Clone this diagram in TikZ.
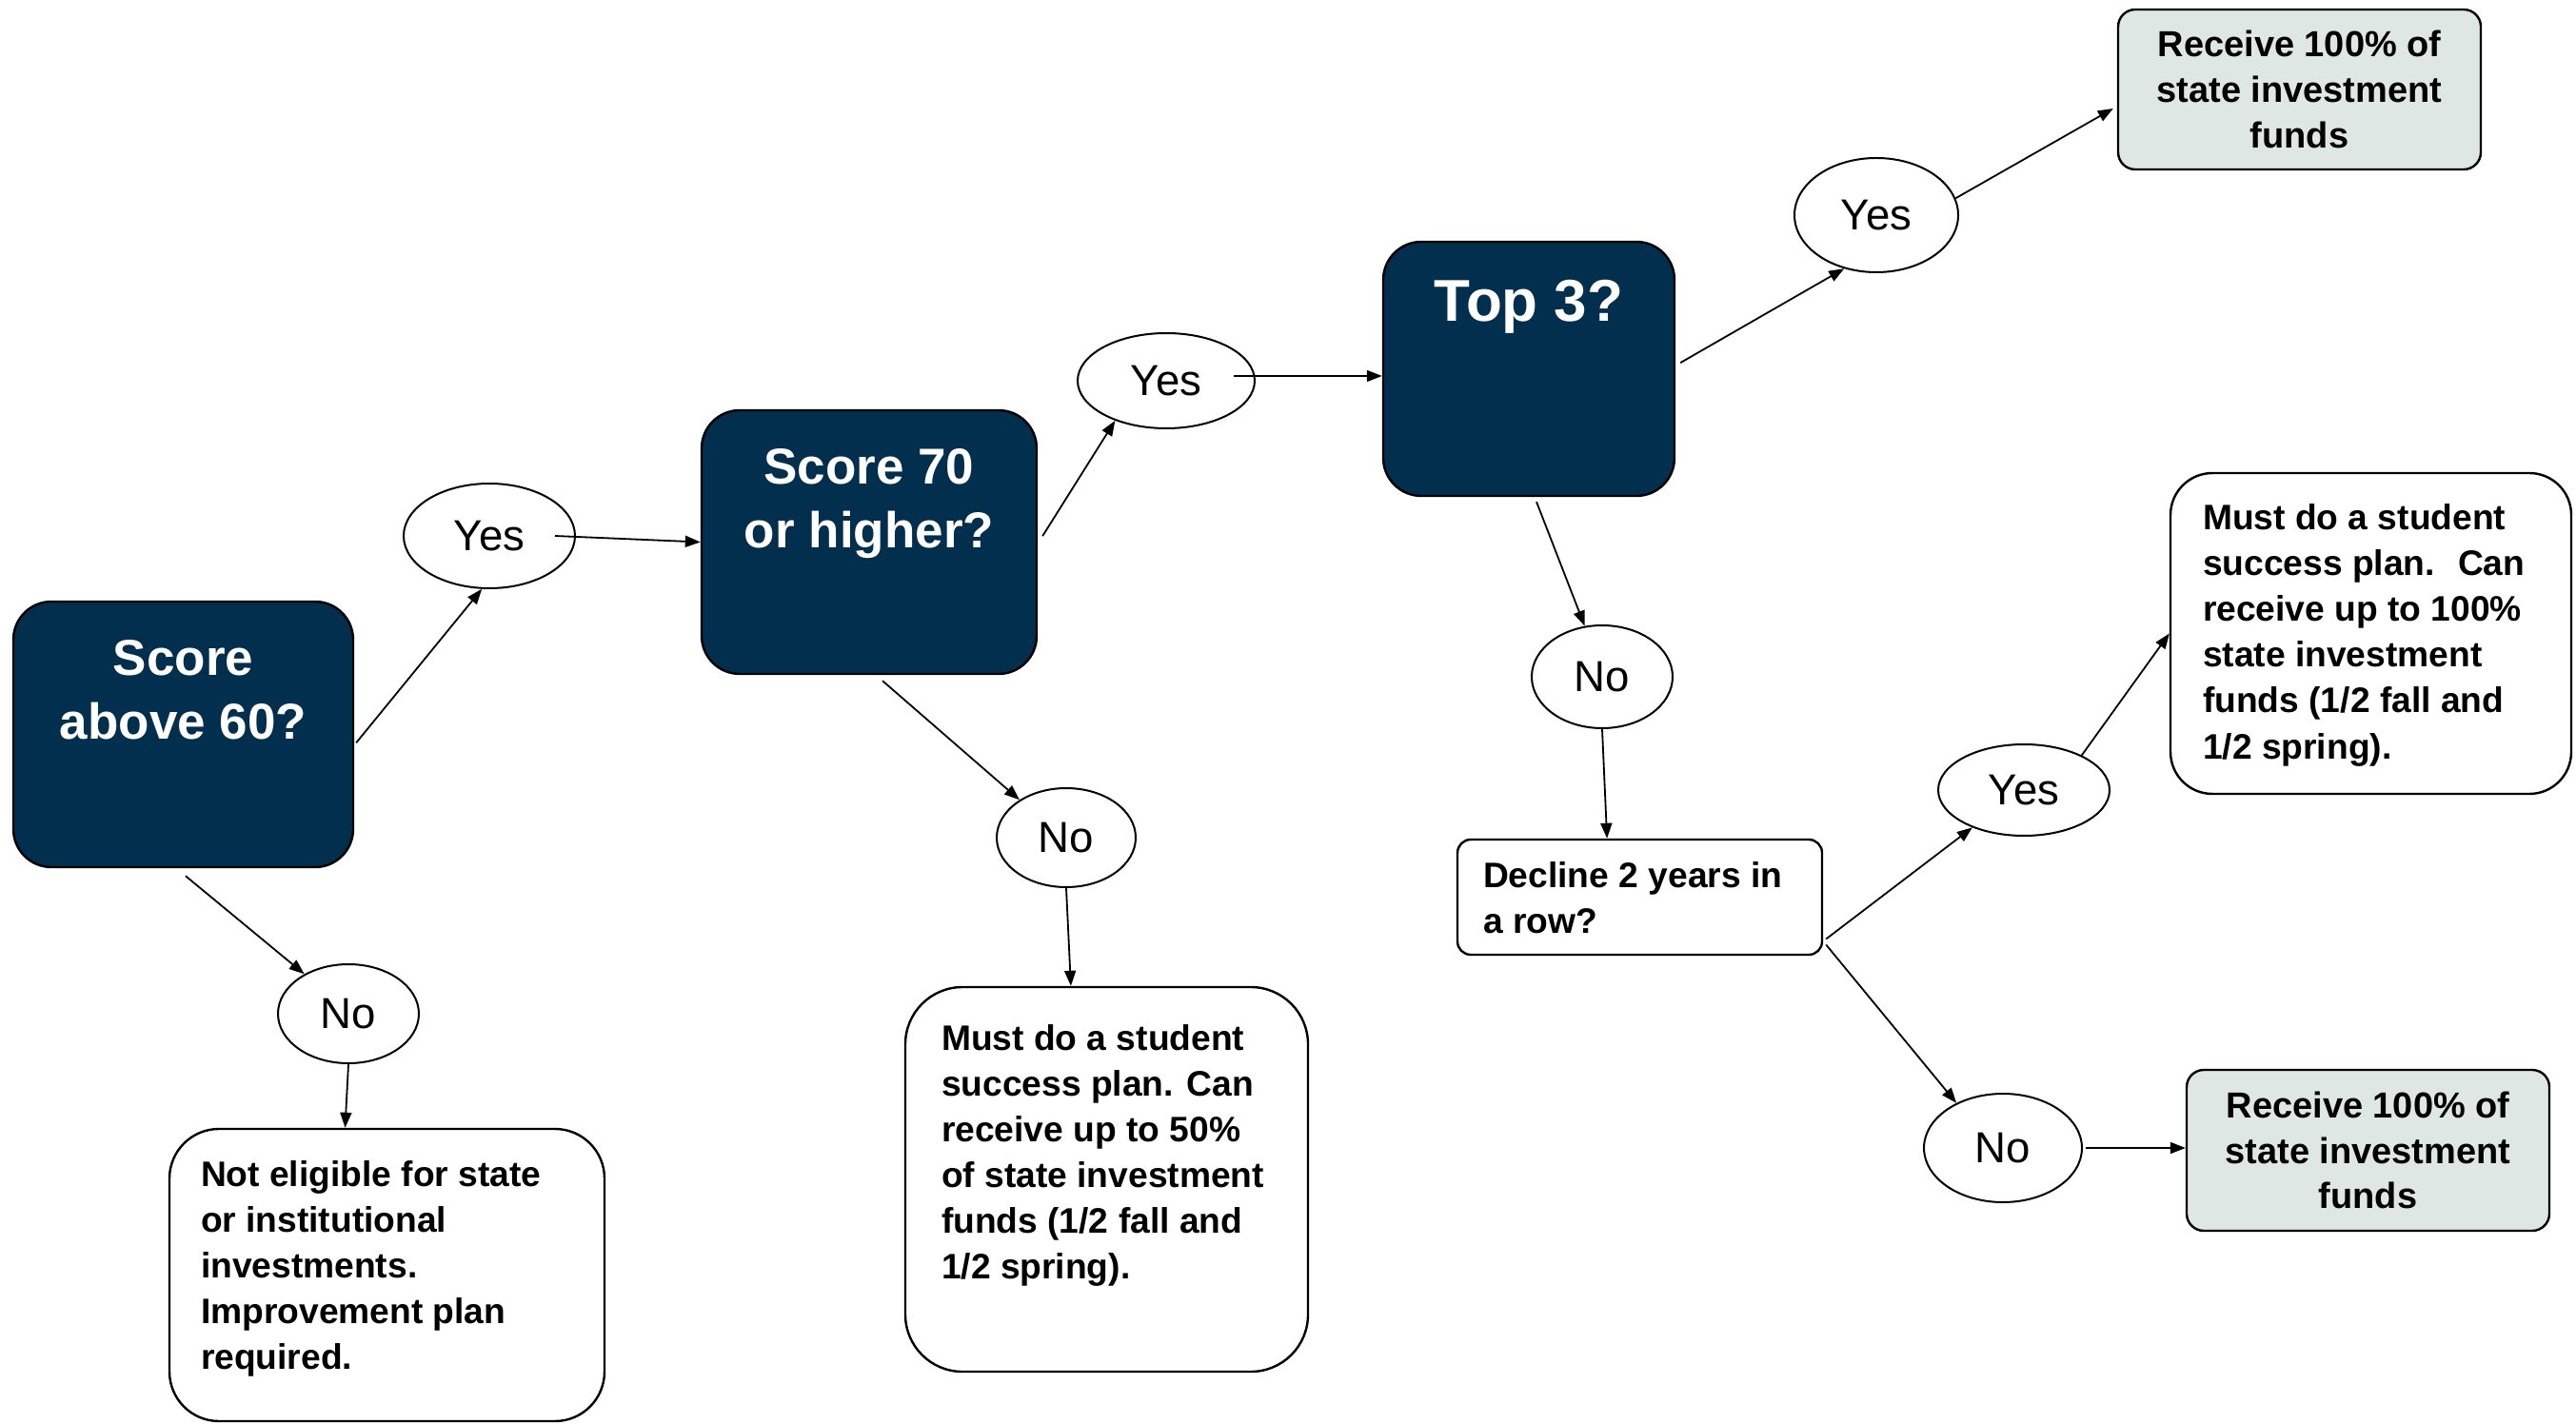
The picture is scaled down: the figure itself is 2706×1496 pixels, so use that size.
\documentclass[tikz,border=0pt]{standalone}
\usepackage{fontspec}
\setmainfont{Liberation Sans}
\usetikzlibrary{shapes.geometric,arrows.meta}
\definecolor{navy}{RGB}{3,47,79}
\definecolor{sage}{RGB}{222,231,227}
\newcommand{\ctxt}[4]{\parbox[c][#2][t]{#1}{\centering\rule{0pt}{#3}#4}}
\newcommand{\ltxt}[5]{\parbox[c][#2][t]{#1}{\raggedright\leftskip=#4\rule{0pt}{#3}#5}}
\tikzset{
  dbox/.style={draw=black, line width=0.6pt, fill=navy, text=white, inner sep=0pt, rounded corners=10pt, font=\bfseries},
  wbox/.style={draw=black, line width=0.6pt, fill=white, inner sep=0pt, font=\fontsize{9.3}{12}\selectfont\bfseries},
  gbox/.style={draw=black, line width=0.6pt, fill=sage, inner sep=0pt, rounded corners=4.5pt, align=center,
    font=\fontsize{9.5}{11.9}\selectfont\bfseries},
  ell/.style={draw=black, line width=0.5pt, ellipse, inner sep=0pt, font=\fontsize{11.4}{13}\selectfont},
  arr/.style={draw=black, line width=0.45pt, -{Triangle[length=4pt,width=3pt]}}
}
\begin{document}
\begin{tikzpicture}[x=0.25pt,y=-0.25pt]
\useasboundingbox (0,0) rectangle (2706,1496);
% decision boxes
\node[dbox] (s60) at (192.5,771.5) {\fontsize{13.25}{16.8}\selectfont\ctxt{89.25pt}{69.75pt}{19.3pt}{Score\\above 60?}};
\node[dbox] (s70) at (913,569.5) {\fontsize{13.25}{16.75}\selectfont\ctxt{88pt}{69.25pt}{19.5pt}{Score 70\\or higher?}};
\node[dbox] (top3) at (1606,387.5) {\fontsize{15.5}{18}\selectfont\ctxt{76.5pt}{66.75pt}{21pt}{Top 3?}};
% outcome boxes
\node[wbox, rounded corners=13pt] (ne) at (406.5,1339.5) {\ltxt{114.25pt}{76.75pt}{15pt}{8.25pt}{Not eligible for state\\or institutional\\investments.\\Improvement plan\\required.}};
\node[wbox, rounded corners=15pt] (mid) at (1162.5,1239) {\ltxt{105.75pt}{101pt}{16.5pt}{9.5pt}{Must do a student\\success plan. Can\\receive up to 50\%\\of state investment\\funds (1/2 fall and\\1/2 spring).}};
\node[wbox, rounded corners=3.5pt] (dec) at (1722.5,942.5) {\ltxt{95.75pt}{30.25pt}{12.5pt}{6.75pt}{Decline 2 years in\\a row?}};
\node[wbox, rounded corners=11pt] (mr) at (2490.5,665.5) {\ltxt{105.25pt}{84.25pt}{15pt}{8.5pt}{Must do a student\\success plan.~ Can\\receive up to 100\%\\state investment\\funds (1/2 fall and\\1/2 spring).}};
\node[gbox, minimum width=95.25pt, minimum height=42pt] (rt) at (2415.5,94) {Receive 100\% of\\state investment\\funds};
\node[gbox, minimum width=95.25pt, minimum height=42.25pt] (rb) at (2487.5,1208.5) {Receive 100\% of\\state investment\\funds};
% yes / no ellipses
\node[ell, minimum width=45pt, minimum height=27.5pt] (yes1) at (514,563) {Yes};
\node[ell, minimum width=37pt, minimum height=26pt] (no1) at (366,1065) {No};
\node[ell, minimum width=46.5pt, minimum height=25pt] (yes2) at (1225,400) {Yes};
\node[ell, minimum width=36.5pt, minimum height=26pt] (no2) at (1120,880) {No};
\node[ell, minimum width=43pt, minimum height=30pt] (yes3) at (1971,226) {Yes};
\node[ell, minimum width=37pt, minimum height=27pt] (no3) at (1683,711) {No};
\node[ell, minimum width=45pt, minimum height=24pt] (yes4) at (2126,830) {Yes};
\node[ell, minimum width=41.5pt, minimum height=28.5pt] (no4) at (2104,1206) {No};
% connectors
\draw[arr] ([xshift=0.5pt,yshift=-2.2pt]s60.east) -- (yes1.-98);
\draw[arr] ([xshift=0.6pt,yshift=-2pt]s60.south) -- (no1.138);
\draw[arr] ([xshift=17.25pt]yes1.center) -- (s70.west);
\draw[arr] ([xshift=1.25pt,yshift=1.6pt]s70.east) -- (yes2.-142);
\draw[arr] ([xshift=3.5pt,yshift=-1.5pt]s70.south) -- (no2.141);
\draw[arr] (no2.south) -- ([xshift=-9.4pt]mid.north);
\draw[arr] (no1.south) -- ([xshift=-11pt]ne.north);
\draw[arr] ([xshift=17.75pt,yshift=1.25pt]yes2.center) coordinate (y2s) -- (y2s -| top3.west);
\draw[arr] ([xshift=1.25pt,yshift=1.6pt]top3.east) -- (yes3.-121);
\draw[arr] (yes3.12) -- ([xshift=-1pt,yshift=-5pt]rt.west);
\draw[arr] ([xshift=2pt,yshift=-1.25pt]top3.south) -- (no3.109);
\draw[arr] (no3.south) -- ([xshift=-8.6pt]dec.north);
\draw[arr] ([xshift=0.75pt,yshift=-11pt]dec.east) -- (yes4.-144);
\draw[arr] (yes4.31) -- (mr.west);
\draw[arr] ([xshift=0.75pt,yshift=-12.5pt]dec.east) -- (no4.136);
\draw[arr] ([xshift=0.75pt]no4.east) -- (no4.east -| rb.west);
\end{tikzpicture}
\end{document}
